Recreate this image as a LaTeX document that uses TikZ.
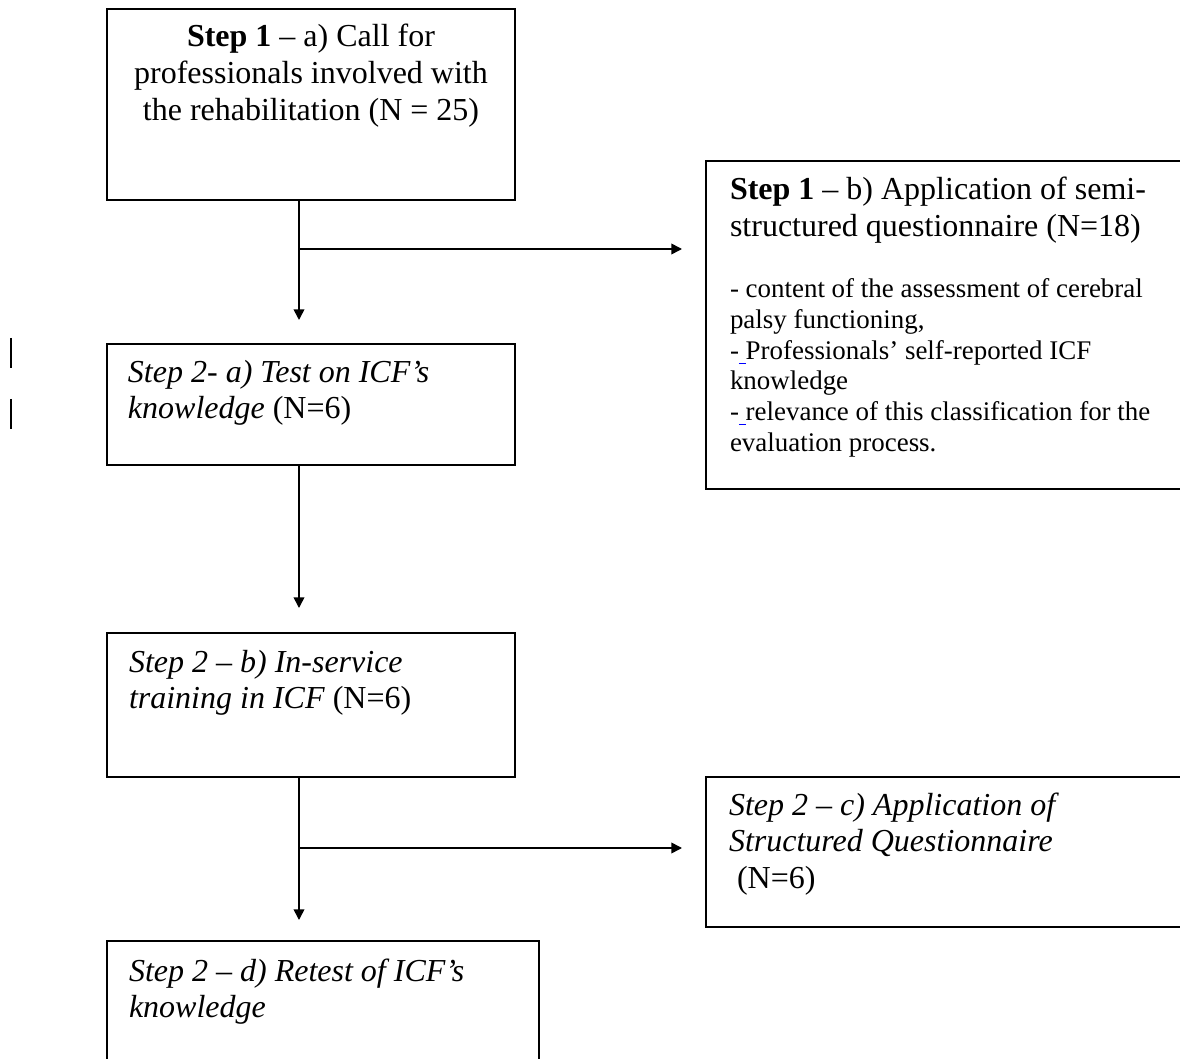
\documentclass[tikz,border=0pt]{standalone}
\usepackage{fontspec}
\setmainfont{Liberation Serif}
\usetikzlibrary{arrows.meta}
\newcommand\bigf{\fontsize{12}{13.8}\selectfont}
\newcommand\smallf{\fontsize{10.1}{11.5}\selectfont}
\newcommand\blueus{\textcolor{blue}{\underline{\ }}}
\begin{document}
\begin{tikzpicture}[x=0.375pt,y=-0.375pt,
  box/.style={draw, line width=0.75pt, inner sep=0pt, outer sep=0pt, anchor=north west},
  txt/.style={inner sep=0pt, outer sep=0pt, anchor=base west, font=\bigf},
  stxt/.style={inner sep=0pt, outer sep=0pt, anchor=base west, font=\smallf},
  ctxt/.style={inner sep=0pt, outer sep=0pt, anchor=base, font=\bigf},
  conn/.style={line width=0.6pt},
  arr/.style={conn, -{Triangle[length=4pt,width=4pt]}},
  chbar/.style={line width=0.55pt}]
\useasboundingbox (0,0) rectangle (1180,1059);

% boxes
\node[box, minimum width=153pt, minimum height=71.6pt] (A) at (107,9) {};
\node[box, minimum width=183.75pt, minimum height=123pt] (B) at (706,161) {};
\node[box, minimum width=153pt, minimum height=45.4pt] (C) at (107,344) {};
\node[box, minimum width=153pt, minimum height=54pt] (D) at (107,633) {};
\node[box, minimum width=183.75pt, minimum height=56.25pt] (E) at (706,777) {};
\node[box, minimum width=162pt, minimum height=48.75pt] (F) at (107,941) {};

% texts
\node[ctxt] (tA) at (311,47) {\parbox[t]{150pt}{\centering\textbf{Step 1} – a) Call for\\professionals involved with\\the rehabilitation (N = 25)}};
\node[txt] (tB) at (730,200) {\parbox[t]{170pt}{\textbf{Step 1} – b) Application of semi-\\structured questionnaire (N=18)}};
\node[stxt] (tB2) at (730,298) {\parbox[t]{170pt}{- content of the assessment of cerebral\\palsy functioning,\\-\blueus Professionals’ self-reported ICF\\knowledge\\-\blueus relevance of this classification for the\\evaluation process.}};
\node[txt] (tC) at (128,382) {\parbox[t]{150pt}{\textit{Step 2- a) Test on ICF’s}\\\textit{knowledge} (N=6)}};
\node[txt] (tD) at (129,672) {\parbox[t]{150pt}{\textit{Step 2 – b) In-service}\\\textit{training in ICF} (N=6)}};
\node[txt] (tE) at (729,815) {\parbox[t]{170pt}{\textit{Step 2 – c) Application of}\\\textit{Structured Questionnaire}\\\hspace*{0.25em}(N=6)}};
\node[txt] (tF) at (129,981) {\parbox[t]{150pt}{\textit{Step 2 – d) Retest of ICF’s}\\\textit{knowledge}}};

% connectors
\coordinate (tipC) at (299,320);
\coordinate (jA) at (299,249);
\coordinate (tipB) at (682,249);
\coordinate (tipD) at (299,608);
\coordinate (tipF) at (299,920);
\coordinate (jD) at (299,848);
\coordinate (tipE) at (682,848);
\draw[arr] (A.south -| tipC) -- (tipC);
\draw[arr] (jA) -- (tipB);
\draw[arr] (C.south -| tipD) -- (tipD);
\draw[arr] (D.south -| tipF) -- (tipF);
\draw[arr] (jD) -- (tipE);

% change bars in the left margin
\coordinate (m1) at (11,338);
\coordinate (m2) at (11,368);
\coordinate (m3) at (11,399);
\coordinate (m4) at (11,429);
\draw[chbar] (m1) -- (m2);
\draw[chbar] (m3) -- (m4);
\end{tikzpicture}
\end{document}
